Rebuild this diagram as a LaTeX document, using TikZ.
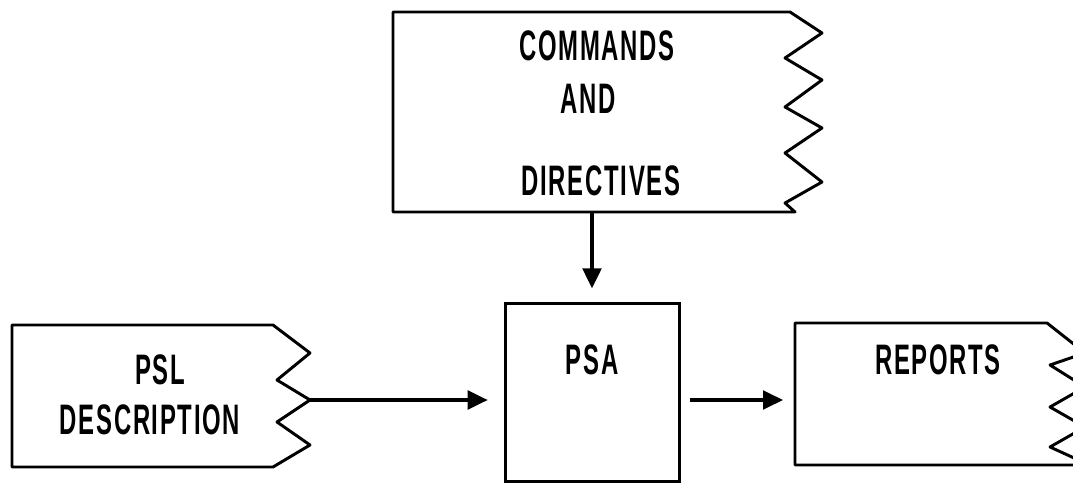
\documentclass[tikz,border=0pt]{standalone}
\usepackage{fontspec}
\setmainfont{Liberation Sans}[FakeStretch=0.56, LetterSpace=4]
\usetikzlibrary{arrows.meta}
\begin{document}
\begin{tikzpicture}[x=0.75pt,y=-0.75pt,
  outline/.style={line width=2.2pt, line join=round},
  txt/.style={font=\fontsize{32}{36}\selectfont\bfseries, inner sep=0pt, anchor=center},
  flow/.style={line width=2.4pt, -{Triangle[length=15pt,width=14pt]}}]
  \useasboundingbox (0,0) rectangle (1073,484);
  \clip (0,0) rectangle (1073,484);

  % input: commands and directives
  \draw[outline] (393,12) -- (790,12) -- (822,33) -- (785,58) -- (822,80)
    -- (785,107) -- (822,128) -- (785,153) -- (822,182) -- (785,203)
    -- (795,212) -- (393,212) -- cycle;
  \node[txt] (cmd1) at (597,46) {COMMANDS};
  \node[txt] (cmd2) at (588,99) {AND};
  \node[txt] (cmd3) at (601,181) {DIRECTIVES};
  \coordinate (cmdout) at (592,212);

  % input: PSL description
  \draw[outline] (12,325) -- (273,325) -- (310,353) -- (277,380) -- (310,400)
    -- (277,422) -- (310,445) -- (273,467) -- (12,467) -- cycle;
  \node[txt] (psl1) at (160,370) {PSL};
  \node[txt] (psl2) at (150,420) {DESCRIPTION};
  \coordinate (pslout) at (310,400);

  % the analyzer
  \node[draw, line width=2.2pt, minimum width=131pt, minimum height=134pt,
        inner sep=0pt] (psa) at (592.5,392.5) {};
  \node[txt] (psatext) at (592,360) {PSA};

  % output: reports
  \draw[outline] (795,323) -- (1047,323) -- (1085,353) -- (1050,365)
    -- (1085,387) -- (1050,407) -- (1085,427) -- (1050,447) -- (1085,463)
    -- (1085,465) -- (795,465) -- cycle;
  \node[txt] (rep) at (938,360) {REPORTS};
  \coordinate (repin) at (795,400);

  % data flow
  \draw[flow, shorten >=10pt] (cmdout) -- (cmdout |- psa.north);
  \draw[flow, shorten >=12pt] (pslout) -- (pslout -| psa.west);
  \draw[flow, shorten >=9pt] (pslout -| psa.east) ++(9,0) coordinate (psaout)
    (psaout) -- (repin);
\end{tikzpicture}
\end{document}
